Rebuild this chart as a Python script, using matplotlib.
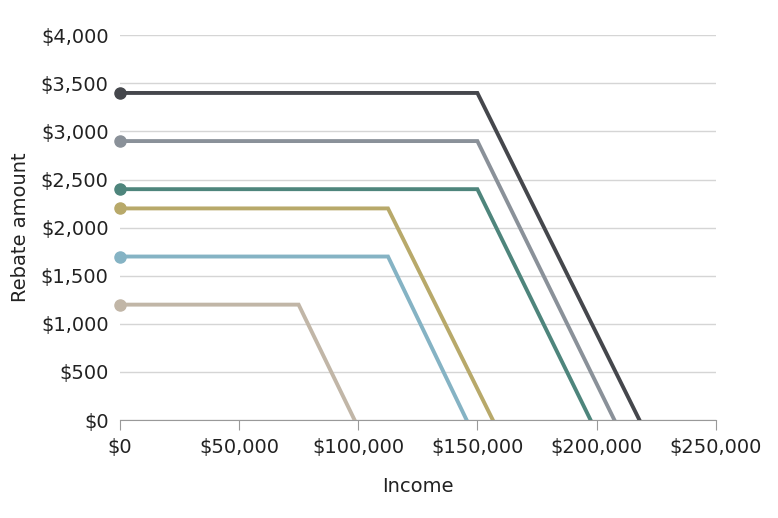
import matplotlib.pyplot as plt
from matplotlib.ticker import FuncFormatter

# each series: (max rebate, phase-out start, zero point, colour)
rebates = [3400, 2900, 2400, 2200, 1700, 1200]
phase_start = [150000, 150000, 150000, 112500, 112500, 75000]
phase_end = [218000, 207500, 197500, 156500, 145500, 98500]
colors = ['#45474c', '#8a9199', '#4e857c', '#b8a96a', '#85b3c4', '#c1b6a7']

fig = plt.figure(figsize=(7.78, 5.18), dpi=100)
ax = fig.add_axes([0.154, 0.189, 0.766, 0.743])

for r, s, e, c in zip(rebates, phase_start, phase_end, colors):
    ax.plot([0, s, e], [r, r, 0], color=c, lw=2.8, solid_joinstyle='miter', zorder=3)
    ax.plot([0], [r], 'o', color=c, ms=8, zorder=4, clip_on=False)

ax.set_xlim(0, 250000)
ax.set_ylim(0, 4000)
ax.set_xticks(range(0, 250001, 50000))
ax.set_yticks(range(0, 4001, 500))
ax.xaxis.set_major_formatter(FuncFormatter(lambda v, p: f'${v:,.0f}'))
ax.yaxis.set_major_formatter(FuncFormatter(lambda v, p: f'${v:,.0f}'))
ax.grid(axis='y', color='#d5d5d5', lw=1)
ax.set_axisbelow(True)
for s in ['top', 'right', 'left']:
    ax.spines[s].set_visible(False)
ax.spines['bottom'].set_color('#999999')
ax.tick_params(axis='y', length=0, labelsize=14, pad=8, colors='#222222')
ax.tick_params(axis='x', length=7, color='#999999', labelsize=14, pad=6, labelcolor='#222222')
ax.set_xlabel('Income', fontsize=14, labelpad=14, color='#222222')
ax.set_ylabel('Rebate amount', fontsize=14, labelpad=8, color='#222222')

fig.savefig('out.png', dpi=100)
